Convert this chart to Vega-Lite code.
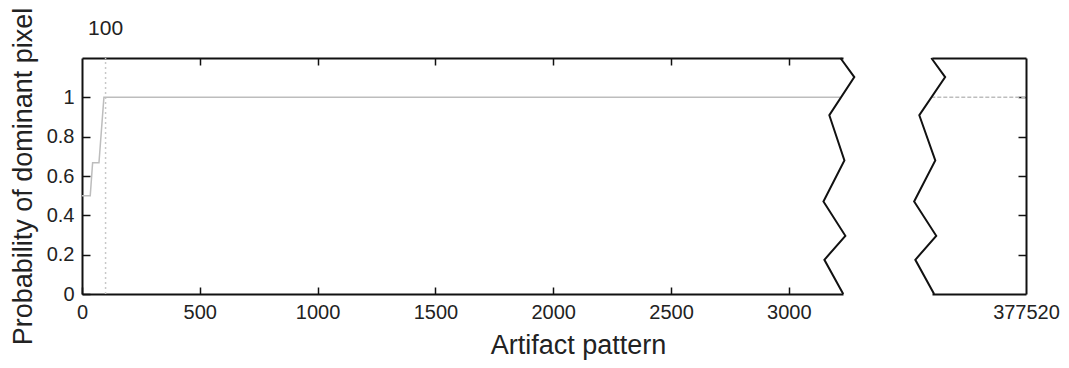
{
  "$schema": "https://vega.github.io/schema/vega-lite/v6.json",
  "background": "white",
  "padding": {"left": 9, "top": 7, "right": 2, "bottom": 2},
  "config": {
    "view": {"stroke": null},
    "font": "Liberation Sans",
    "axis": {
      "domainColor": "#111",
      "domainWidth": 2,
      "tickColor": "#111",
      "tickWidth": 1.5,
      "labelFont": "Liberation Sans",
      "labelFontSize": 20,
      "labelColor": "#222",
      "titleFont": "Liberation Sans",
      "titleFontWeight": "normal",
      "titleFontSize": 27,
      "titleColor": "#222",
      "grid": false
    }
  },
  "datasets": {
    "curve": [
      {"x": 0, "y": 0.5},
      {"x": 35, "y": 0.5},
      {"x": 45, "y": 0.667},
      {"x": 72, "y": 0.667},
      {"x": 93, "y": 1.0},
      {"x": 3219, "y": 1.0}
    ],
    "curveRight": [
      {"x": 377117, "y": 1.0},
      {"x": 377520, "y": 1.0}
    ],
    "marker": [
      {"x": 100, "y": 0, "label": "100"}
    ],
    "zigLeft": [
      {"o": 1, "x": 3219, "y": 1.2},
      {"o": 2, "x": 3278, "y": 1.103},
      {"o": 3, "x": 3172, "y": 0.909},
      {"o": 4, "x": 3236, "y": 0.679},
      {"o": 5, "x": 3147, "y": 0.47},
      {"o": 6, "x": 3240, "y": 0.296},
      {"o": 7, "x": 3151, "y": 0.174},
      {"o": 8, "x": 3231, "y": 0.0}
    ],
    "zigRight": [
      {"o": 1, "x": 377117, "y": 1.2},
      {"o": 2, "x": 377176, "y": 1.103},
      {"o": 3, "x": 377066, "y": 0.909},
      {"o": 4, "x": 377134, "y": 0.679},
      {"o": 5, "x": 377044, "y": 0.47},
      {"o": 6, "x": 377138, "y": 0.296},
      {"o": 7, "x": 377049, "y": 0.174},
      {"o": 8, "x": 377129, "y": 0.0}
    ]
  },
  "spacing": 89,
  "bounds": "flush",
  "hconcat": [
    {
      "width": 761,
      "height": 236,
      "layer": [
        {
          "data": {"name": "marker"},
          "mark": {"type": "rule", "color": "#c8c8c8", "strokeDash": [2, 3], "strokeWidth": 1.5},
          "encoding": {
            "x": {"field": "x", "type": "quantitative", "scale": {"domain": [0, 3230], "nice": false, "zero": false},
                  "axis": {"orient": "top", "values": [500, 1000, 1500, 2000, 2500, 3000], "labels": false, "tickSize": -7, "title": null}},
            "y": {"datum": 0, "type": "quantitative", "scale": {"domain": [0, 1.2], "nice": false}, "axis": null},
            "y2": {"datum": 1.2}
          }
        },
        {
          "data": {"name": "curve"},
          "mark": {"type": "line", "color": "#bdbdbd", "strokeWidth": 1.5},
          "encoding": {
            "x": {"field": "x", "type": "quantitative", "scale": {"domain": [0, 3230], "nice": false, "zero": false},
                  "axis": {"orient": "bottom", "values": [0, 500, 1000, 1500, 2000, 2500, 3000], "format": "d", "labelFontSize": 20, "labelFlush": false, "tickSize": -7, "labelPadding": 15, "title": "Artifact pattern", "titleFontSize": 27, "titleX": 496, "titlePadding": 10}},
            "y": {"field": "y", "type": "quantitative", "scale": {"domain": [0, 1.2], "nice": false},
                  "axis": {"orient": "left", "values": [0, 0.2, 0.4, 0.6, 0.8, 1], "format": "~g", "labelFontSize": 20, "tickSize": -8, "labelPadding": 16, "title": "Probability of dominant pixel", "titleFontSize": 27, "titlePadding": 9}}
          }
        },
        {
          "data": {"name": "zigLeft"},
          "mark": {"type": "line", "color": "#111", "strokeWidth": 2, "clip": false},
          "encoding": {
            "x": {"field": "x", "type": "quantitative", "scale": {"domain": [0, 3230], "nice": false, "zero": false}, "axis": null},
            "y": {"field": "y", "type": "quantitative", "scale": {"domain": [0, 1.2], "nice": false}, "axis": null},
            "order": {"field": "o"}
          }
        },
        {
          "data": {"name": "marker"},
          "mark": {"type": "text", "fontSize": 21, "color": "#222", "dy": -29, "baseline": "middle", "align": "center"},
          "encoding": {
            "x": {"field": "x", "type": "quantitative", "scale": {"domain": [0, 3230], "nice": false, "zero": false}, "axis": null},
            "y": {"datum": 1.2, "type": "quantitative", "scale": {"domain": [0, 1.2], "nice": false}, "axis": null},
            "text": {"field": "label"}
          }
        }
      ],
      "resolve": {"axis": {"x": "independent", "y": "independent"}}
    },
    {
      "width": 94,
      "height": 236,
      "layer": [
        {
          "data": {"name": "curveRight"},
          "mark": {"type": "line", "color": "#bdbdbd", "strokeWidth": 1.5, "strokeDash": [4, 2]},
          "encoding": {
            "x": {"field": "x", "type": "quantitative", "scale": {"domain": [377120, 377520], "nice": false, "zero": false},
                  "axis": {"orient": "bottom", "values": [377520], "ticks": false, "labelPadding": 8, "labelFontSize": 20, "labelFlush": false, "format": "d", "title": null}},
            "y": {"field": "y", "type": "quantitative", "scale": {"domain": [0, 1.2], "nice": false},
                  "axis": {"orient": "right", "values": [0.2, 0.4, 0.6, 0.8, 1], "tickSize": -8, "labels": false, "title": null}}
          }
        },
        {
          "data": {"name": "zigRight"},
          "mark": {"type": "line", "color": "#111", "strokeWidth": 2, "clip": false},
          "encoding": {
            "x": {"field": "x", "type": "quantitative", "scale": {"domain": [377120, 377520], "nice": false, "zero": false},
                  "axis": {"orient": "top", "labels": false, "ticks": false, "title": null}},
            "y": {"field": "y", "type": "quantitative", "scale": {"domain": [0, 1.2], "nice": false}, "axis": null},
            "order": {"field": "o"}
          }
        }
      ],
      "resolve": {"axis": {"x": "independent", "y": "independent"}}
    }
  ]
}
